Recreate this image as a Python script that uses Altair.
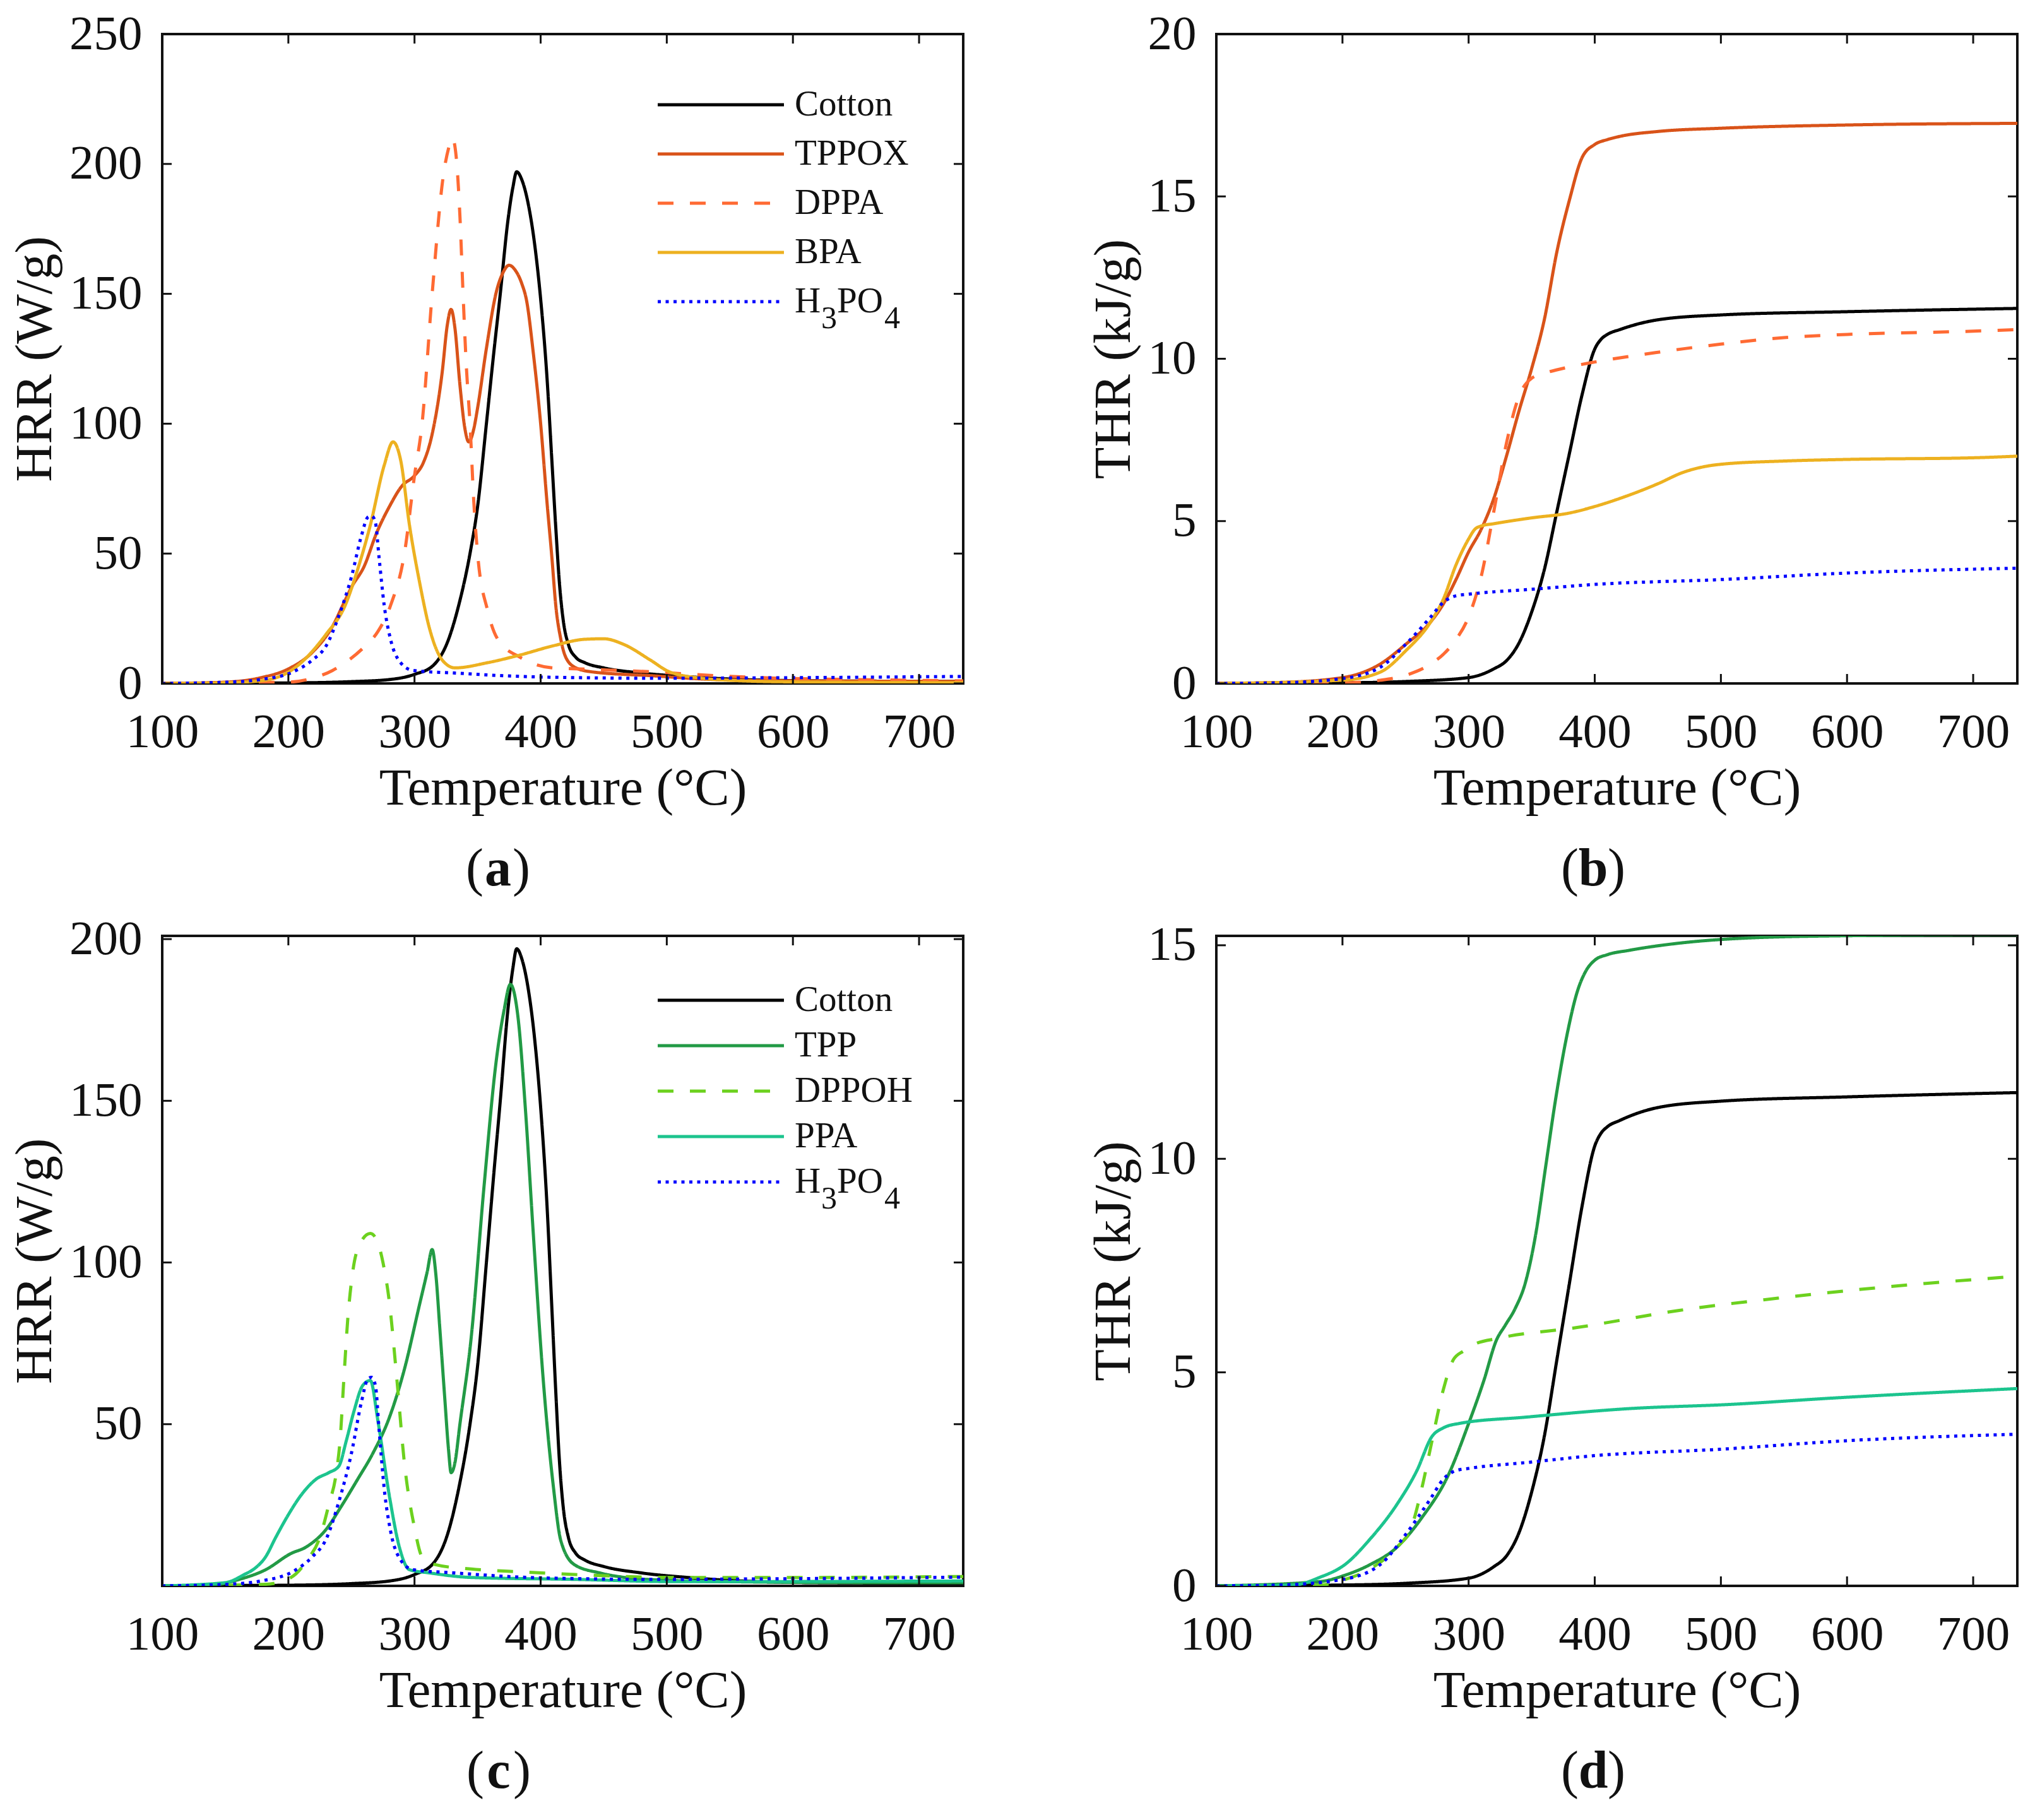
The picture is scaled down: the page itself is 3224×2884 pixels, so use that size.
import altair as alt
import pandas as pd

FONT = "Liberation Serif"
INK = "#111111"

# ---------------- axes ----------------
XTICKS = [100, 200, 300, 400, 500, 600, 700]
X_DOMAIN = [100, 735]
YTICKS_A = [0, 50, 100, 150, 200, 250]
YTICKS_B = [0, 5, 10, 15, 20]
YTICKS_C = [50, 100, 150, 200]
YTICKS_D = [0, 5, 10, 15]

# ---------------- series ----------------
SERIES_TOP = ["Cotton", "TPPOX", "DPPA", "BPA", "H₃PO₄"]
SERIES_BOT = ["Cotton", "TPP", "DPPOH", "PPA", "H₃PO₄"]
LABELS_TOP = ["Cotton", "TPPOX", "DPPA", "BPA", "H"]
LABELS_BOT = ["Cotton", "TPP", "DPPOH", "PPA", "H"]
COLORS_TOP = ["#000000", "#D95319", "#FF6A33", "#EDB120", "#0000FF"]
COLORS_BOT = ["#000000", "#229A45", "#6CD11E", "#1CC48E", "#0000FF"]
DASHES = [[1, 0], [1, 0], [25, 26], [1, 0], [5, 7.5]]

# ---------------- (a) HRR ----------------
A_COTTON_T = [100, 150, 200, 250, 280, 300, 315, 327, 335, 344, 350, 357, 363, 368, 374, 378, 381, 385, 390, 395,
              400, 405, 409, 412, 415, 418, 422, 428, 435, 450, 480, 520, 560, 620, 735]
A_COTTON_V = [0, 0.1, 0.2, 0.7, 1.5, 3.5, 7, 17, 30, 50, 68, 100, 128, 150, 178, 191, 197, 194, 185, 170,
              148, 118, 85, 60, 38, 24, 15, 10, 8, 6, 4, 2.5, 1.5, 1, 0.8]
A_TPPOX_T = [100, 150, 178, 200, 219, 235, 245, 250, 260, 270, 280, 290, 300, 307, 314, 322, 326, 329, 332, 336,
             340, 343, 347, 350, 357, 365, 370, 375, 380, 385, 389, 394, 400, 405, 409, 412, 416, 420, 428, 440,
             487, 538, 600, 735]
A_TPPOX_V = [0, 0.5, 2.2, 5.6, 12, 22, 32, 37, 45, 58, 68, 76, 80, 85, 96, 120, 138, 144, 137, 115,
             98, 93, 98, 106, 129, 151, 158, 161, 159, 154, 147, 128, 100, 70, 48, 30, 17, 10, 6, 4.5,
             3, 1.5, 1, 0.8]
A_DPPA_T = [100, 200, 219, 235, 245, 260, 271, 281, 292, 300, 306, 314, 323, 327, 330, 333, 336, 338.5, 341, 344,
            347, 350, 358, 366, 384, 409, 435, 487, 538, 590, 650, 735]
A_DPPA_V = [0, 0.5, 2, 5, 8, 14, 20, 30, 50, 80, 100, 150, 196, 206, 210, 203, 180, 150, 123, 100,
            70, 50, 28, 17, 10, 6, 5.5, 4.5, 3, 2, 1.5, 1]
A_BPA_T = [100, 150, 178, 204, 230, 245, 255, 265, 276, 283, 289, 296, 304, 312, 322, 332, 358, 384, 410, 435,
           450, 466, 487, 502, 528, 560, 600, 735]
A_BPA_V = [0, 0.3, 1, 5.6, 19, 30, 44, 61, 84, 93, 86, 61, 39, 21, 9, 6, 8, 11, 14.5, 17,
           17.2, 15, 9, 4.5, 2, 1, 0.6, 0.3]
A_H3PO4_T = [100, 152, 178, 204, 219, 230, 240, 250, 258, 263, 266, 269, 272, 276, 281, 289, 299, 332, 384, 435,
             487, 590, 735]
A_H3PO4_V = [0, 0.5, 1.5, 4.5, 9, 14.5, 26, 41, 57, 64, 64.5, 62, 48, 30, 17, 8, 5, 4, 2.7, 2.2,
             2, 2.2, 2.7]

# ---------------- (b) THR ----------------
B_COTTON_T = [100, 200, 250, 300, 320, 330, 340, 350, 360, 370, 380, 390, 400, 405, 410, 420, 450, 500, 600, 735]
B_COTTON_V = [0, 0.02, 0.06, 0.18, 0.45, 0.7, 1.25, 2.2, 3.5, 5.3, 7.1, 8.9, 10.3, 10.6, 10.75, 10.9, 11.2, 11.35,
              11.45, 11.55]
B_TPPOX_T = [100, 150, 200, 230, 250, 270, 280, 290, 300, 310, 320, 330, 340, 350, 360, 370, 380, 390, 400, 410,
             420, 450, 500, 600, 735]
B_TPPOX_V = [0, 0.03, 0.18, 0.6, 1.2, 1.9, 2.45, 3.2, 4.05, 4.75, 5.7, 7.0, 8.4, 9.7, 11.2, 13.3, 14.9, 16.2, 16.6,
             16.75, 16.85, 17.0, 17.1, 17.2, 17.25]
B_DPPA_T = [100, 200, 230, 250, 270, 280, 290, 300, 310, 320, 330, 340, 350, 360, 380, 400, 450, 500, 550, 600,
            700, 735]
B_DPPA_V = [0, 0.02, 0.1, 0.25, 0.6, 0.9, 1.35, 2.05, 3.3, 5.3, 7.4, 8.85, 9.4, 9.55, 9.75, 9.9, 10.2, 10.45,
            10.65, 10.75, 10.85, 10.9]
B_BPA_T = [100, 200, 230, 250, 270, 280, 290, 300, 305, 310, 320, 350, 380, 400, 420, 450, 470, 490, 500, 550,
           600, 700, 735]
B_BPA_V = [0, 0.1, 0.35, 1.0, 1.9, 2.6, 3.65, 4.45, 4.75, 4.85, 4.92, 5.1, 5.25, 5.45, 5.7, 6.15, 6.5, 6.7, 6.75,
           6.85, 6.9, 6.95, 7.0]
B_H3PO4_T = [100, 150, 200, 230, 250, 270, 280, 290, 300, 350, 400, 500, 600, 735]
B_H3PO4_V = [0, 0.02, 0.15, 0.5, 1.2, 2.05, 2.5, 2.7, 2.75, 2.9, 3.05, 3.2, 3.4, 3.55]

# ---------------- (c) HRR ----------------
C_TPP_T = [100, 141, 161, 182, 202, 214, 231, 241, 255, 267, 280, 292, 304, 310, 314, 317, 320, 324, 327, 329,
           332, 336, 345, 355, 365, 371, 376, 382, 388, 394, 402, 410, 416, 427, 447, 467, 508, 549, 650, 735]
C_TPP_V = [0, 0.3, 2, 5, 10, 12, 18, 24, 33, 41, 52, 67, 87, 97, 104, 96, 80, 58, 42, 35,
           38, 50, 77, 123, 163, 178, 186, 176, 147, 110, 64, 31, 14, 6.5, 4, 2.6, 1.6, 1.3, 1.0, 1.0]
C_DPPOH_T = [100, 182, 202, 215, 225, 232, 238, 241, 244, 247, 251, 257, 265, 270, 275, 280, 286, 292, 300, 306,
             316, 345, 386, 427, 508, 600, 735]
C_DPPOH_V = [0, 0.5, 2.6, 8, 15, 25, 35, 45, 64, 82, 97, 106, 109, 107, 100, 88, 64, 38, 18, 9,
             6.6, 5.2, 4.3, 3.5, 2.6, 2.6, 2.9]
C_PPA_T = [100, 150, 165, 173, 182, 190, 200, 210, 222, 232, 240, 246, 252, 259, 265, 271, 280, 288, 296, 312,
           345, 427, 508, 735]
C_PPA_V = [0, 1, 3.5, 5.3, 9, 15, 22, 28, 33, 35, 37, 45, 54, 62, 63.5, 51, 28, 12, 5, 4,
           2.6, 2, 1.3, 1.5]

# ---------------- (d) THR ----------------
D_TPP_T = [100, 182, 202, 222, 243, 263, 284, 300, 312, 322, 329, 337, 345, 353, 361, 369, 378, 386, 393, 400,
           410, 427, 467, 508, 590, 735]
D_TPP_V = [0, 0.1, 0.25, 0.5, 0.9, 1.6, 2.6, 3.8, 4.8, 5.75, 6.1, 6.5, 7.1, 8.2, 9.8, 11.4, 12.9, 13.9, 14.4,
           14.65, 14.78, 14.88, 15.05, 15.15, 15.22, 15.25]
D_DPPOH_T = [100, 182, 202, 222, 243, 255, 263, 271, 280, 288, 296, 304, 324, 386, 467, 549, 631, 735]
D_DPPOH_V = [0, 0.02, 0.15, 0.4, 0.9, 1.4, 2.3, 3.4, 4.6, 5.3, 5.5, 5.65, 5.8, 6.05, 6.45, 6.75, 7.0, 7.25]
D_PPA_T = [100, 161, 182, 202, 222, 243, 259, 271, 280, 292, 345, 427, 508, 590, 735]
D_PPA_V = [0, 0.02, 0.2, 0.5, 1.1, 1.9, 2.7, 3.5, 3.7, 3.8, 3.95, 4.15, 4.25, 4.4, 4.62]

W = 1269
H_TOP = 1029
H_BOT = 1030
LW = 5


def long_df(series, pairs):
    rows = []
    for name, (ts, vs) in zip(series, pairs):
        for t, v in zip(ts, vs):
            rows.append({"s": name, "T": t, "v": v})
    return pd.DataFrame(rows)


def panel(series, labels, colors, pairs, ydom, yticks, ytitle, h, letter, cx, legend_range=None):
    df = long_df(series, pairs)
    x_enc = alt.X("T:Q", scale=alt.Scale(domain=X_DOMAIN, nice=False, zero=False),
                  axis=alt.Axis(values=XTICKS, title="Temperature (°C)", labelFlush=False,
                                labelOverlap=False, labelPadding=39, titlePadding=10))
    y_enc = alt.Y("v:Q", scale=alt.Scale(domain=ydom, nice=False, zero=False),
                  axis=alt.Axis(values=yticks, title=ytitle, labelPadding=32, titlePadding=12,
                                labelOverlap=False, labelFlush=False))
    col = alt.Color("s:N", scale=alt.Scale(domain=series, range=colors), legend=None)
    dash = alt.StrokeDash("s:N", scale=alt.Scale(domain=series, range=DASHES), legend=None)

    lines = alt.Chart(df).mark_line(strokeWidth=LW, clip=True, interpolate="monotone",
                                    strokeJoin="round").encode(
        x=x_enc, y=y_enc, color=col, strokeDash=dash)

    xt = pd.DataFrame({"T": XTICKS})
    yt = pd.DataFrame({"v": yticks})
    tick_b = alt.Chart(xt).mark_rule(color=INK, strokeWidth=3).encode(
        x=x_enc, y=alt.value(h), y2=alt.value(h - 15))
    tick_t = alt.Chart(xt).mark_rule(color=INK, strokeWidth=3).encode(
        x=x_enc, y=alt.value(0), y2=alt.value(15))
    tick_l = alt.Chart(yt).mark_rule(color=INK, strokeWidth=3).encode(
        y=y_enc, x=alt.value(0), x2=alt.value(15))
    tick_r = alt.Chart(yt).mark_rule(color=INK, strokeWidth=3).encode(
        y=y_enc, x=alt.value(W), x2=alt.value(W - 15))

    one = pd.DataFrame({"k": [0]})
    ly = h + 320
    lp = alt.Chart(one).mark_text(text="(", font=FONT, fontSize=84, align="right",
                                  baseline="alphabetic", color=INK).encode(
        x=alt.value(cx - 23), y=alt.value(ly))
    lm = alt.Chart(one).mark_text(text=letter, font=FONT, fontSize=84, fontWeight="bold",
                                  align="center", baseline="alphabetic", color=INK).encode(
        x=alt.value(cx), y=alt.value(ly))
    rp = alt.Chart(one).mark_text(text=")", font=FONT, fontSize=84, align="left",
                                  baseline="alphabetic", color=INK).encode(
        x=alt.value(cx + 23), y=alt.value(ly))

    base = alt.layer(lines, tick_b, tick_t, tick_l, tick_r, lp, lm, rp)

    if legend_range is None:
        return base.properties(width=W, height=h)

    n = len(series)
    leg = pd.DataFrame({"s": series, "lab": labels, "row": list(range(n))})
    leg_y = alt.Y("row:Q", scale=alt.Scale(domain=[0, n - 1], range=legend_range), axis=None)
    leg_lines = alt.Chart(leg).mark_rule(strokeWidth=LW).encode(
        y=leg_y, x=alt.value(785), x2=alt.value(985), color=col, strokeDash=dash)
    leg_text = alt.Chart(leg).mark_text(align="left", baseline="middle", font=FONT, fontSize=57,
                                        color=INK).encode(
        y=leg_y, x=alt.value(1002), text="lab:N")
    # subscripted parts of the H3PO4 label (last legend row)
    last = pd.DataFrame({"row": [n - 1]})
    sub3 = alt.Chart(last).mark_text(text="3", align="left", baseline="middle", font=FONT,
                                     fontSize=50, dy=27, color=INK).encode(y=leg_y, x=alt.value(1044))
    po = alt.Chart(last).mark_text(text="PO", align="left", baseline="middle", font=FONT,
                                   fontSize=57, color=INK).encode(y=leg_y, x=alt.value(1069))
    sub4 = alt.Chart(last).mark_text(text="4", align="left", baseline="middle", font=FONT,
                                     fontSize=50, dy=27, color=INK).encode(y=leg_y, x=alt.value(1144))
    legend = alt.layer(leg_lines, leg_text, sub3, po, sub4)
    return alt.layer(base, legend).resolve_scale(y="independent").properties(width=W, height=h)


pa = panel(SERIES_TOP, LABELS_TOP, COLORS_TOP,
           [(A_COTTON_T, A_COTTON_V), (A_TPPOX_T, A_TPPOX_V), (A_DPPA_T, A_DPPA_V),
            (A_BPA_T, A_BPA_V), (A_H3PO4_T, A_H3PO4_V)],
           [0, 250], YTICKS_A, "HRR (W/g)", H_TOP, "a", 532, legend_range=[112, 424])
pb = panel(SERIES_TOP, LABELS_TOP, COLORS_TOP,
           [(B_COTTON_T, B_COTTON_V), (B_TPPOX_T, B_TPPOX_V), (B_DPPA_T, B_DPPA_V),
            (B_BPA_T, B_BPA_V), (B_H3PO4_T, B_H3PO4_V)],
           [0, 20], YTICKS_B, "THR (kJ/g)", H_TOP, "b", 597)
pc = panel(SERIES_BOT, LABELS_BOT, COLORS_BOT,
           [(A_COTTON_T, A_COTTON_V), (C_TPP_T, C_TPP_V), (C_DPPOH_T, C_DPPOH_V),
            (C_PPA_T, C_PPA_V), (A_H3PO4_T, A_H3PO4_V)],
           [0, 201], YTICKS_C, "HRR (W/g)", H_BOT, "c", 533, legend_range=[102, 390])
pd_ = panel(SERIES_BOT, LABELS_BOT, COLORS_BOT,
            [(B_COTTON_T, B_COTTON_V), (D_TPP_T, D_TPP_V), (D_DPPOH_T, D_DPPOH_V),
             (D_PPA_T, D_PPA_V), (B_H3PO4_T, B_H3PO4_V)],
            [0, 15.22], YTICKS_D, "THR (kJ/g)", H_BOT, "d", 597)

chart = alt.concat(pa, pb, pc, pd_, columns=2, spacing={"row": 400, "column": 401},
                   bounds="flush").resolve_scale(color="independent", strokeDash="independent")

chart = chart.properties(
    padding={"left": 4, "top": 5, "right": 5, "bottom": 5},
    background="white",
).configure_view(
    stroke=INK, strokeWidth=4
).configure_axis(
    domain=False, ticks=False, tickSize=0, grid=False,
    labelFont=FONT, titleFont=FONT, labelFontSize=77, titleFontSize=83,
    labelColor=INK, titleColor=INK, titleFontWeight="normal"
)

chart.save("out.html", embed_options={"renderer": "svg", "actions": False})
